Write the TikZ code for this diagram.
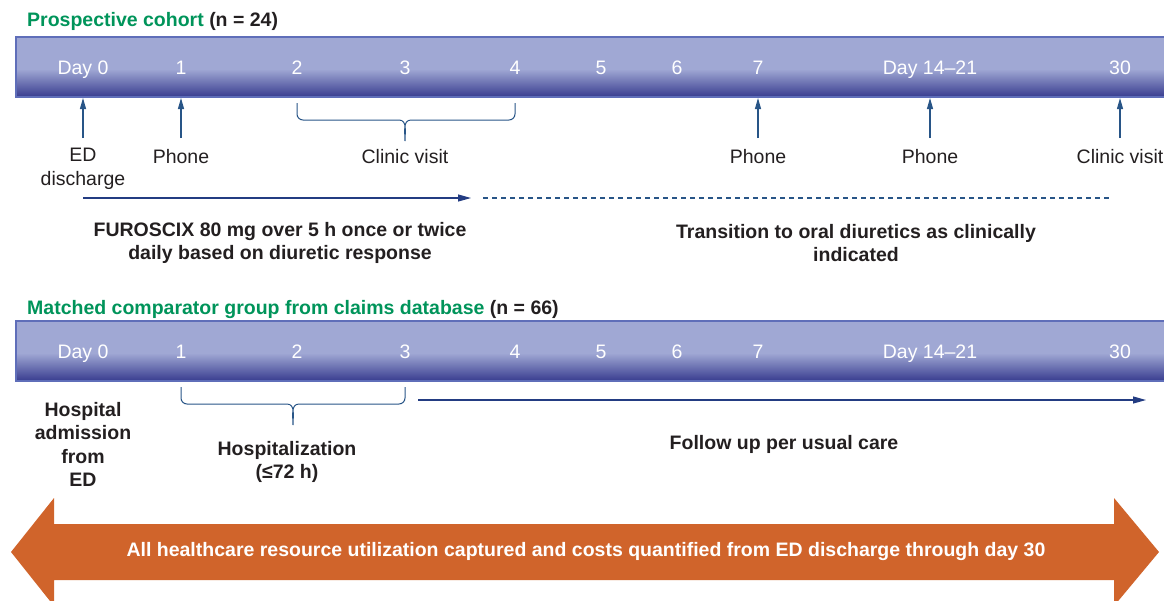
\documentclass[tikz,border=0pt]{standalone}
\usepackage{fontspec}
\setmainfont{Liberation Sans}
\usetikzlibrary{arrows.meta}
\definecolor{barlight}{RGB}{160,168,212}
\definecolor{bardark}{RGB}{56,60,143}
\definecolor{baredge}{RGB}{95,110,185}
\definecolor{lineblue}{RGB}{40,85,135}
\definecolor{navy}{RGB}{35,60,130}
\definecolor{cohort}{RGB}{0,148,90}
\definecolor{ink}{RGB}{35,31,32}
\definecolor{band}{RGB}{208,100,43}
\begin{document}
\begin{tikzpicture}[x=1pt,y=-1pt,
  daylab/.style={text=white, font=\fontsize{19.5}{22}\selectfont, inner sep=0pt, anchor=base},
  evlab/.style={text=ink, font=\fontsize{19.5}{24}\selectfont, align=center, inner sep=0pt},
  boldlab/.style={text=ink, font=\fontsize{19.5}{23.3}\selectfont\bfseries, align=center, inner sep=0pt},
  headlab/.style={text=cohort, font=\fontsize{19.5}{23}\selectfont\bfseries, anchor=west, inner sep=0pt},
  uparrow/.style={draw=lineblue, line width=1.1pt, -{Triangle[length=11pt,width=6pt]}},
  spanarrow/.style={draw=navy, line width=1.1pt, -{Triangle[length=13pt,width=7pt]}},
  dashline/.style={draw=lineblue, line width=1.1pt, dash pattern=on 5pt off 4pt},
  bracepath/.style={draw=lineblue, line width=1pt},
  bandtext/.style={text=white, font=\fontsize{19.5}{22}\selectfont\bfseries, inner sep=0pt}]
\useasboundingbox (0,0) rectangle (1164,600);

% ---------- Prospective cohort ----------
\node[headlab] (h1) at (27,21) {Prospective cohort \textcolor{ink}{(n = 24)}};
\fill[barlight] (16,37) rectangle (1170,97);
\shade[top color=barlight, bottom color=bardark] (16,69) rectangle (1170,97);
\draw[baredge, line width=1.5pt] (1170,37) -- (16,37) -- (16,97) -- (1170,97);

\foreach \x/\t/\n in {83/Day 0/a0, 181/1/a1, 297/2/a2, 405/3/a3, 515/4/a4, 601/5/a5, 677/6/a6, 758/7/a7, 930/Day 14--21/a14, 1120/30/a30}
  \node[daylab] (\n) at (\x,74) {\t};

\foreach \x/\n in {83/u0, 181/u1, 758/u7, 930/u14, 1120/u30}{
  \coordinate (\n top) at (\x,98);
  \coordinate (\n bot) at (\x,138);
  \draw[uparrow] (\n bot) -- (\n top);
}
\node[evlab] (ed) at (83,169) {ED\\discharge};
\node[evlab] (ph1) at (181,157) {Phone};
\node[evlab] (cv1) at (405,157) {Clinic visit};
\node[evlab] (ph7) at (758,157) {Phone};
\node[evlab] (ph14) at (930,157) {Phone};
\node[evlab] (cv30) at (1120,157) {Clinic visit};

% brace days 2-4
\coordinate (b1l) at (297,103);
\coordinate (b1r) at (515,103);
\coordinate (b1t) at (405,141);
\draw[bracepath] (b1l) -- ++(0,11) to[out=-90,in=180] (303,120) -- (399,120) to[out=0,in=90] (b1t)
  to[out=90,in=180] (411,120) -- (509,120) to[out=0,in=-90] (515,114) -- (b1r);

% treatment arrows
\coordinate (fs) at (83,198);
\coordinate (fe) at (471,198);
\coordinate (ds) at (483,198);
\coordinate (de) at (1112,198);
\draw[spanarrow] (fs) -- (fe);
\draw[dashline] (ds) -- (de);

\node[boldlab] (furo) at (280,243) {FUROSCIX 80 mg over 5 h once or twice\\daily based on diuretic response};
\node[boldlab] (trans) at (856,243) {Transition to oral diuretics as clinically\\indicated};

% ---------- Comparator ----------
\node[headlab] (h2) at (27,309) {Matched comparator group from claims database \textcolor{ink}{(n = 66)}};
\fill[barlight] (16,321) rectangle (1170,381);
\shade[top color=barlight, bottom color=bardark] (16,353) rectangle (1170,381);
\draw[baredge, line width=1.5pt] (1170,321) -- (16,321) -- (16,381) -- (1170,381);

\foreach \x/\t/\n in {83/Day 0/c0, 181/1/c1, 297/2/c2, 405/3/c3, 515/4/c4, 601/5/c5, 677/6/c6, 758/7/c7, 930/Day 14--21/c14, 1120/30/c30}
  \node[daylab] (\n) at (\x,358) {\t};

% brace days 1-3
\coordinate (b2l) at (181,387);
\coordinate (b2r) at (405,387);
\coordinate (b2t) at (293,425);
\draw[bracepath] (b2l) -- ++(0,11) to[out=-90,in=180] (187,404) -- (287,404) to[out=0,in=90] (b2t)
  to[out=90,in=180] (299,404) -- (399,404) to[out=0,in=-90] (405,398) -- (b2r);

\coordinate (fus) at (418,400);
\coordinate (fue) at (1146,400);
\draw[spanarrow] (fus) -- (fue);

\node[boldlab] (hosp) at (83,444.5) {Hospital\\admission\\from\\ED};
\node[boldlab] (hz) at (287,462) {Hospitalization\\(≤72 h)};
\node[boldlab] (fu) at (784,444) {Follow up per usual care};

% ---------- Orange band ----------
\fill[band] (11,552) -- (54,498) -- (54,524) -- (1114,524) -- (1114,498) -- (1159,552)
  -- (1114,606) -- (1114,580) -- (54,580) -- (54,606) -- cycle;
\node[bandtext] (bt) at (586,551) {All healthcare resource utilization captured and costs quantified from ED discharge through day 30};
\end{tikzpicture}
\end{document}
